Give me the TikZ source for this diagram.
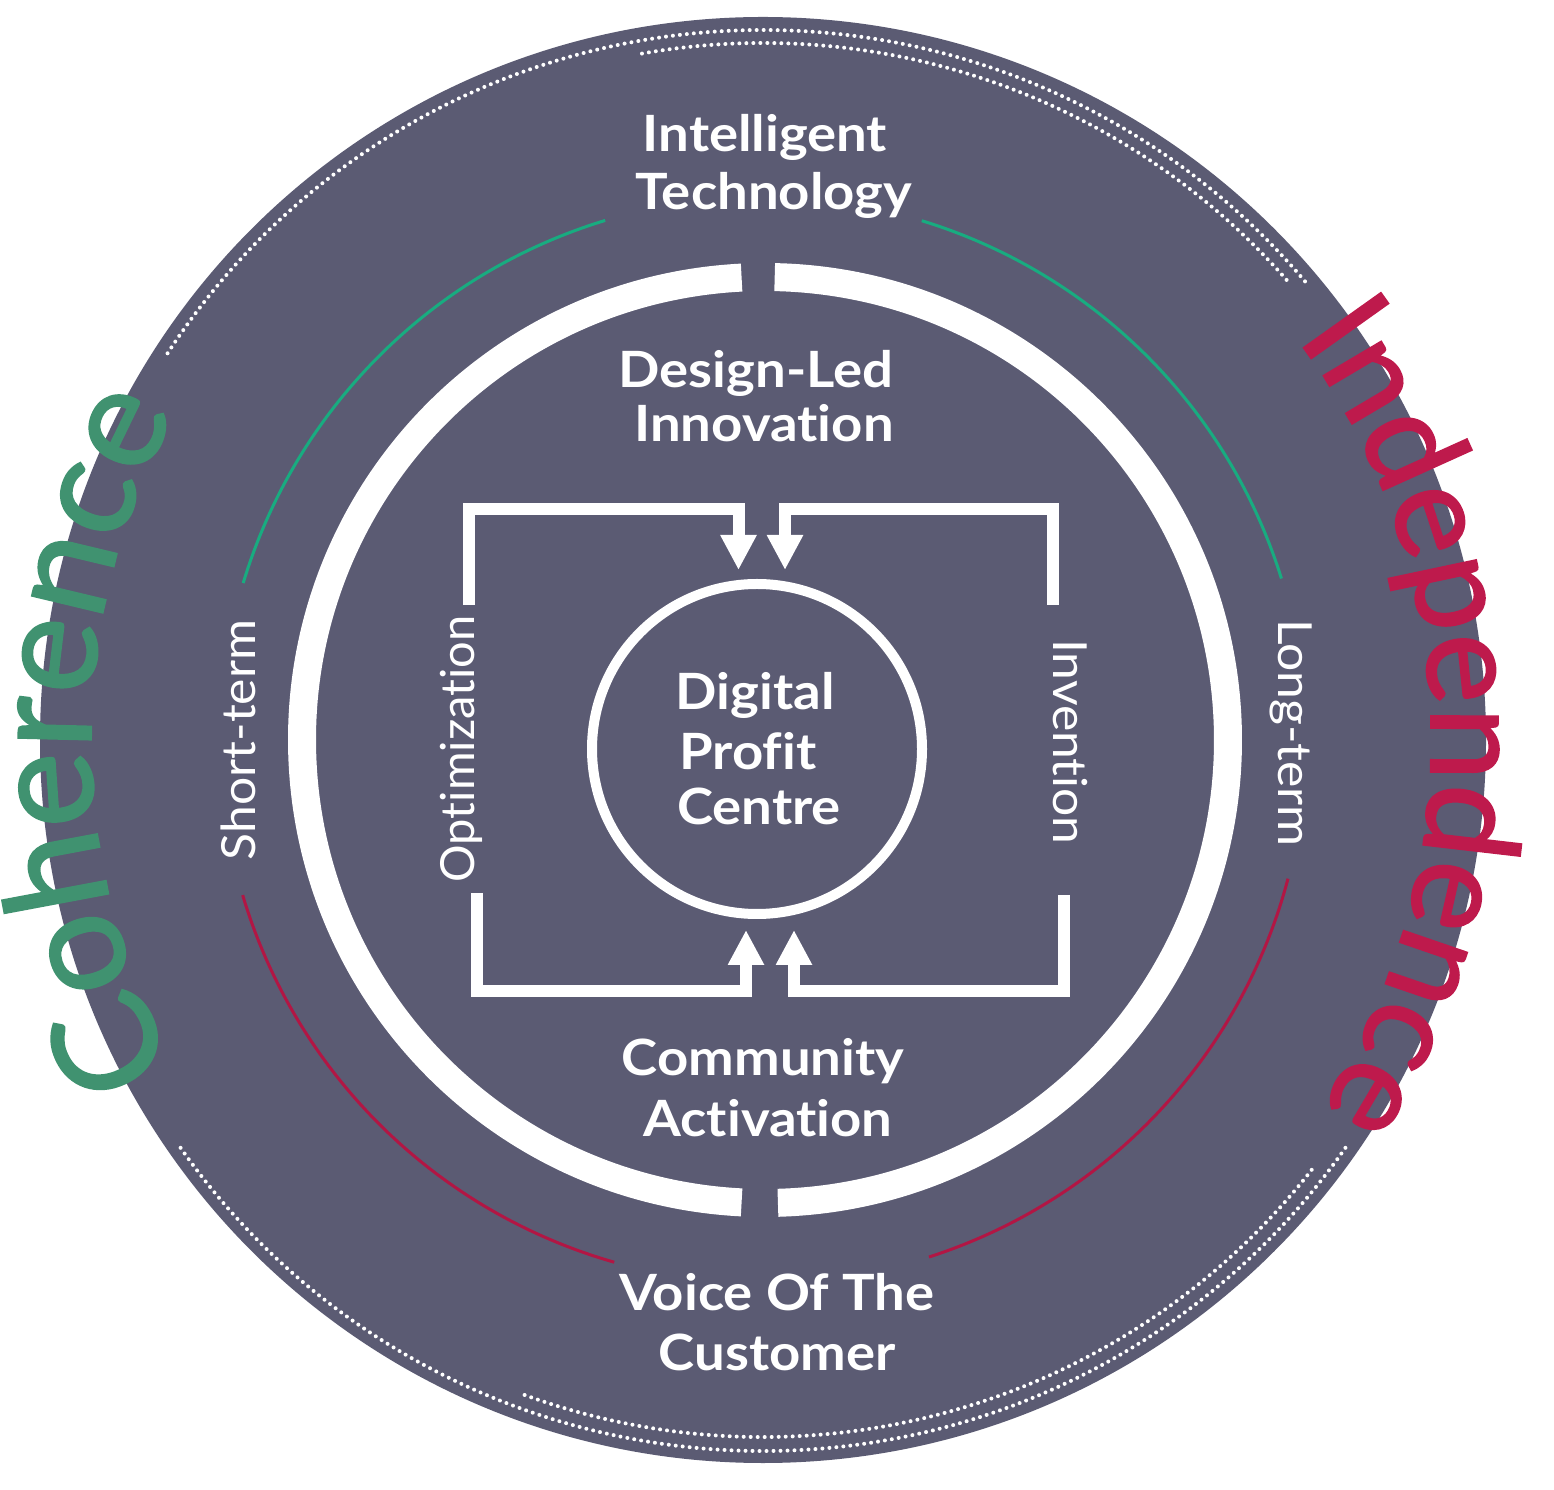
\documentclass[tikz,border=0pt]{standalone}
\usepackage{fontspec}
\usepackage{graphicx}
\setmainfont{Lato}[Ligatures=NoCommon]
\newfontfamily\bigfont{Lato}[Ligatures=NoCommon,FakeBold=1.5]
\usetikzlibrary{arrows.meta,decorations.text}
\definecolor{disc}{RGB}{91,91,115}
\definecolor{arcgreen}{RGB}{24,172,128}
\definecolor{cohgreen}{RGB}{64,146,112}
\definecolor{indred}{RGB}{190,26,76}
\definecolor{arcred}{RGB}{178,22,68}
\newcommand\wx[1]{\scalebox{1.09}[1]{#1}}
\newcommand\sx[1]{\scalebox{1.06}[1]{#1}}
\begin{document}
\begin{tikzpicture}[x=1pt,y=1pt,
  dots/.style={white,line width=4pt,dash pattern=on 0pt off 7pt,line cap=round},
  greenarc/.style={arcgreen,line width=3pt},
  redarc/.style={arcred,line width=3pt},
  ring/.style={white,line width=28pt},
  bracket/.style={white,line width=12pt,line join=miter,-{Triangle[width=34pt,length=35pt]}},
  lab/.style={white,font=\bfseries\fontsize{50}{60}\selectfont,inner sep=0pt,anchor=base},
  side/.style={white,font=\fontsize{47}{52}\selectfont,inner sep=0pt}
]
\useasboundingbox (0,0) rectangle (1554,1489);
\coordinate (O) at (763,749);
\coordinate (R) at (765,749);
\node[circle,fill=disc,minimum size=1446pt,inner sep=0pt] (disc) at (O) {};
% dotted rings
\draw[dots] ([shift={(147:710)}]O) arc[start angle=147,end angle=40,radius=710];
\draw[dots] ([shift={(100:697)}]O) arc[start angle=100,end angle=41,radius=697];
\draw[dots] ([shift={(215:711)}]O) arc[start angle=215,end angle=325,radius=711];
\draw[dots] ([shift={(250:697)}]O) arc[start angle=250,end angle=322,radius=697];
% coloured arcs
\draw[greenarc] ([shift={(163.2:543)}]O) arc[start angle=163.2,end angle=106.9,radius=543];
\draw[greenarc] ([shift={(73:543)}]O) arc[start angle=73,end angle=17.3,radius=543];
\draw[redarc] ([shift={(196.6:543)}]O) arc[start angle=196.6,end angle=254.1,radius=543];
\draw[redarc] ([shift={(-72.2:543)}]O) arc[start angle=-72.2,end angle=-14.8,radius=543];
% white ring
\draw[ring] ([shift={(92.9:463)}]R) arc[start angle=92.9,end angle=267.1,radius=463];
\draw[ring] ([shift={(-88.4:463)}]R) arc[start angle=-88.4,end angle=88.8,radius=463];
% centre circle
\node[circle,draw=white,line width=10pt,minimum size=330pt,inner sep=0pt] (dpc) at (757,740) {};
% brackets
\coordinate (ltS) at (468.5,884); \coordinate (ltA) at (468.5,980);
\coordinate (ltB) at (738.5,980); \coordinate (ltE) at (738.5,919);
\coordinate (rtS) at (1053,884); \coordinate (rtA) at (1053,980);
\coordinate (rtB) at (785,980); \coordinate (rtE) at (785,919);
\coordinate (lbS) at (476.5,596); \coordinate (lbA) at (476.5,497.5);
\coordinate (lbB) at (746,497.5); \coordinate (lbE) at (746,559);
\coordinate (rbS) at (1064,594); \coordinate (rbA) at (1064,497.5);
\coordinate (rbB) at (794,497.5); \coordinate (rbE) at (794,559);
\draw[bracket] (ltS) -- (ltA) -- (ltB) -- (ltE);
\draw[bracket] (rtS) -- (rtA) -- (rtB) -- (rtE);
\draw[bracket] (lbS) -- (lbA) -- (lbB) -- (lbE);
\draw[bracket] (rbS) -- (rbA) -- (rbB) -- (rbE);
% labels
\node[lab] (it1) at (765,1337) {\wx{Intelligent}};
\node[lab] (it2) at (774,1279) {\wx{Technology}};
\node[lab] (dl1) at (756,1101) {\wx{Design-Led}};
\node[lab] (dl2) at (764,1047) {\wx{Innovation}};
\node[lab] (dp1) at (755,779) {\wx{Digital}};
\node[lab] (dp2) at (748,719) {\wx{Profit}};
\node[lab] (dp3) at (759,664) {\wx{Centre}};
\node[lab] (ca1) at (763,414) {\wx{Community}};
\node[lab] (ca2) at (768,353) {\wx{Activation}};
\node[lab] (vc1) at (777,179) {\wx{Voice Of The}};
\node[lab] (vc2) at (777,119) {\wx{Customer}};
\node[side,rotate=90] (st) at (238,749) {\sx{Short-term}};
\node[side,rotate=90] (op) at (461,740) {Optimization};
\node[side,rotate=-90] (inv) at (1070,747) {\sx{Invention}};
\node[side,rotate=-90] (lt) at (1291,756) {\sx{Long-term}};
% big curved words
\path[decorate,decoration={text along path,text align=center,text color=cohgreen,
  text={|\bigfont\fontsize{143}{143}\selectfont|Coherence}}]
  ([shift={(215:672)}]O) arc[start angle=215,end angle=145,radius=672];
\path[decorate,decoration={text along path,text align=center,text color=indred,
  text={|\bigfont\fontsize{132}{132}\selectfont|Independence}}]
  ([shift={(41.5:668)}]O) arc[start angle=41.5,end angle=-38,radius=668];
\end{tikzpicture}
\end{document}
